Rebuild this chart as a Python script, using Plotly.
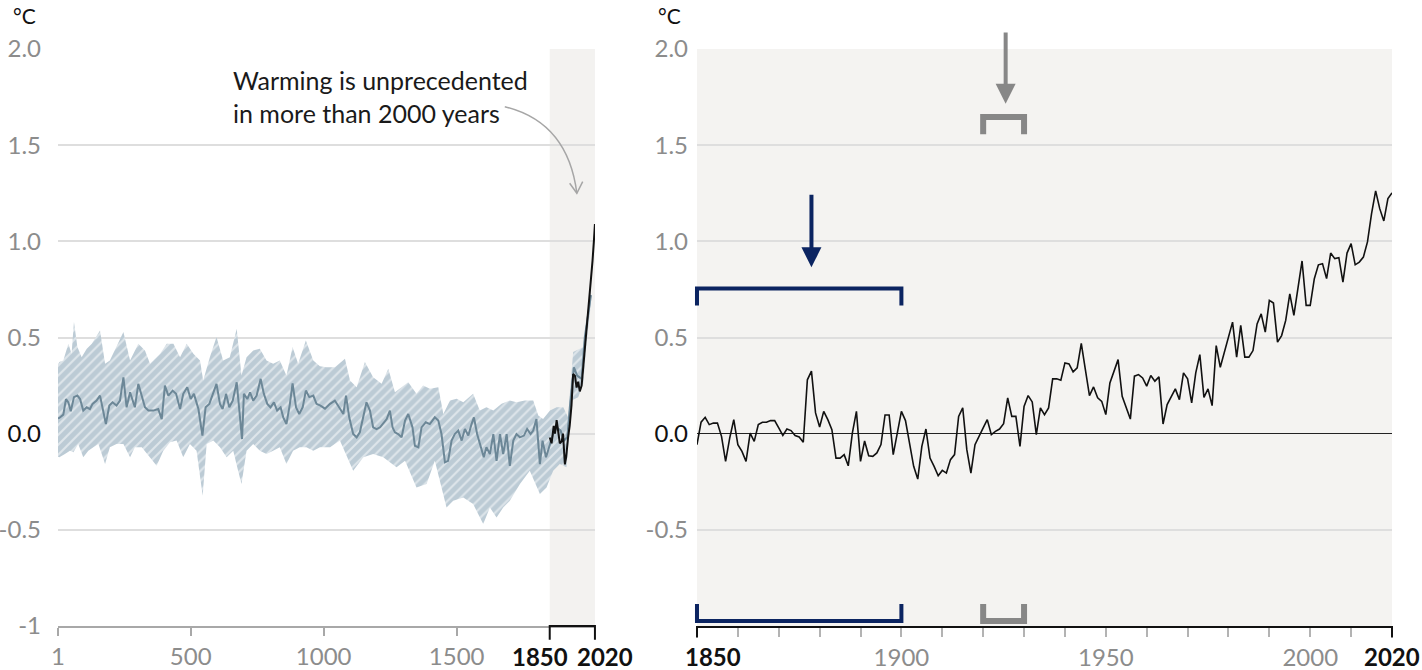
import plotly.graph_objects as go

# ---------------- data ----------------
# Left panel: reconstruction (median) 1-2005
recon_years = [1,6,21,31,40,49,61,74,84,96,109,121,131,146,159,171,181,194,206,221,234,247,259,272,290,303,316,328,341,359,378,391,403,416,432,445,460,472,487,500,512,529,544,556,570,585,597,610,620,633,645,658,673,683,693,700,713,723,735,748,763,775,788,800,813,825,838,848,860,873,883,896,908,921,933,946,961,973,988,1005,1024,1042,1061,1074,1084,1096,1111,1124,1136,1149,1161,1174,1186,1199,1212,1227,1237,1249,1259,1268,1280,1293,1306,1318,1334,1343,1356,1368,1384,1399,1418,1431,1443,1456,1468,1481,1493,1506,1519,1531,1544,1556,1565,1577,1590,1602,1612,1625,1638,1650,1663,1675,1688,1700,1713,1725,1738,1753,1765,1778,1788,1800,1813,1823,1836,1848,1861,1876,1891,1903,1916,1928,1941,1953,1970,1982,1995,2005]
recon_median = [0.08,0.082,0.099,0.18,0.163,0.116,0.19,0.198,0.18,0.12,0.137,0.128,0.155,0.172,0.198,0.111,0.05,0.146,0.163,0.146,0.172,0.293,0.137,0.215,0.137,0.259,0.19,0.137,0.12,0.12,0.128,0.076,0.25,0.198,0.224,0.207,0.128,0.207,0.241,0.18,0.207,0.128,-0.01,0.137,0.155,0.207,0.259,0.155,0.128,0.207,0.137,0.172,0.267,0.12,-0.028,0.207,0.18,0.215,0.172,0.198,0.285,0.207,0.155,0.137,0.163,0.12,0.137,0.085,0.05,0.155,0.262,0.137,0.102,0.137,0.224,0.19,0.198,0.155,0.146,0.13,0.155,0.172,0.128,0.102,0.198,0.085,-0.002,-0.019,0.007,0.085,0.163,0.12,0.033,0.024,0.033,0.059,0.076,0.12,0.033,0.007,-0.002,-0.019,0.068,0.102,0.033,-0.063,-0.071,0.033,0.059,0.05,0.085,0.068,-0.002,-0.149,-0.141,-0.036,-0.002,0.016,-0.036,0.024,-0.01,0.05,0.085,-0.002,-0.063,-0.123,-0.071,-0.106,-0.002,-0.141,-0.002,-0.106,-0.002,-0.167,-0.036,-0.002,-0.019,-0.01,0.024,-0.002,0.016,0.076,-0.158,-0.036,-0.123,-0.071,-0.01,0.033,0.016,-0.036,-0.019,0.172,0.345,0.302,0.285,0.502,0.62,0.72]

# Left panel: upper bound of the reconstruction range
upper_years = [1,6,21,40,52,61,74,90,109,128,159,178,196,221,247,272,303,328,347,385,410,435,460,485,510,535,547,572,597,622,647,673,691,710,735,760,785,810,835,860,883,904,933,961,986,1011,1042,1080,1099,1124,1155,1186,1218,1243,1268,1293,1318,1349,1374,1399,1431,1450,1475,1500,1525,1562,1587,1612,1638,1669,1700,1725,1757,1788,1807,1825,1851,1876,1901,1919,1938,1963,1976,1988,2005]
upper_vals = [0.36,0.372,0.38,0.467,0.415,0.58,0.45,0.397,0.441,0.467,0.536,0.363,0.38,0.45,0.528,0.38,0.467,0.432,0.363,0.415,0.467,0.467,0.397,0.467,0.415,0.38,0.276,0.397,0.502,0.38,0.397,0.545,0.302,0.397,0.432,0.441,0.38,0.363,0.38,0.302,0.45,0.363,0.484,0.38,0.35,0.345,0.345,0.389,0.276,0.241,0.372,0.293,0.259,0.337,0.215,0.241,0.267,0.207,0.25,0.233,0.241,0.102,0.172,0.181,0.163,0.207,0.12,0.137,0.12,0.155,0.172,0.163,0.172,0.172,0.094,0.076,0.12,0.137,0.137,0.085,0.424,0.441,0.45,0.589,0.75]

# Left panel: lower bound of the reconstruction range
lower_years = [1,6,27,46,59,77,96,115,134,153,178,196,221,247,272,290,316,347,372,397,422,447,472,497,522,545,560,585,610,635,660,675,691,710,735,760,785,810,835,860,885,910,935,961,986,1024,1061,1111,1149,1186,1224,1274,1306,1349,1387,1418,1462,1487,1525,1562,1600,1625,1650,1675,1700,1738,1775,1813,1838,1863,1888,1913,1932,1957,1976,1988,2005]
lower_vals = [-0.12,-0.123,-0.106,-0.089,-0.097,-0.054,-0.123,-0.089,-0.071,-0.054,-0.158,-0.071,-0.054,-0.054,-0.123,-0.071,-0.071,-0.123,-0.167,-0.089,-0.045,-0.036,-0.123,-0.054,-0.089,-0.323,-0.054,-0.036,-0.071,-0.123,-0.089,-0.175,-0.262,-0.089,-0.054,-0.089,-0.106,-0.089,-0.071,-0.158,-0.089,-0.071,-0.071,-0.089,-0.07,-0.071,-0.036,-0.193,-0.123,-0.106,-0.123,-0.175,-0.141,-0.28,-0.262,-0.141,-0.384,-0.349,-0.332,-0.366,-0.47,-0.384,-0.436,-0.384,-0.349,-0.262,-0.193,-0.314,-0.28,-0.193,-0.158,-0.175,0.172,0.189,0.259,0.467,0.68]

# Left panel: observed (smoothed) 1850-2020
obs_left_years = [1850,1857,1865,1870,1876,1880,1888,1895,1900,1907,1912,1919,1925,1932,1938,1945,1951,1957,1963,1970,1976,1982,1988,1995,2001,2006,2011,2016,2020]
obs_left_vals = [-0.02,-0.05,0.04,0.0,0.07,0.03,-0.05,-0.04,0.0,-0.16,-0.12,-0.02,0.04,0.15,0.31,0.3,0.24,0.27,0.22,0.25,0.34,0.45,0.52,0.62,0.72,0.82,0.9,1.0,1.09]

# Right panel: annual observed 1850-2020
obs_years = list(range(1850, 2021))
obs_vals = [
    -0.057,0.06,0.085,0.047,0.055,0.055,-0.014,-0.144,-0.023,0.073,
    -0.057,-0.092,-0.144,0.003,-0.04,0.047,0.059,0.059,0.068,0.068,
    0.03,-0.009,0.024,0.016,-0.01,-0.017,-0.045,0.28,0.325,0.108,
    0.035,0.116,0.073,0.021,-0.127,-0.127,-0.109,-0.167,0.003,0.116,
    -0.144,-0.038,-0.115,-0.118,-0.1,-0.057,0.097,0.097,-0.109,0.012,
    0.116,0.068,-0.057,-0.17,-0.236,-0.066,0.024,-0.127,-0.17,-0.219,
    -0.191,-0.205,-0.135,-0.109,0.09,0.134,-0.083,-0.205,-0.057,-0.017,
    0.03,0.073,-0.005,0.012,0.024,0.052,0.186,0.09,0.09,-0.066,
    0.142,0.198,0.165,-0.005,0.134,0.099,0.134,0.285,0.285,0.278,
    0.368,0.363,0.321,0.342,0.469,0.333,0.198,0.243,0.186,0.168,
    0.099,0.264,0.325,0.385,0.194,0.134,0.076,0.299,0.307,0.29,
    0.247,0.302,0.273,0.295,0.05,0.151,0.194,0.233,0.177,0.316,
    0.285,0.16,0.316,0.411,0.189,0.233,0.146,0.458,0.345,0.424,
    0.51,0.58,0.398,0.563,0.398,0.398,0.432,0.571,0.623,0.528,
    0.693,0.679,0.476,0.51,0.589,0.727,0.615,0.753,0.898,0.667,
    0.667,0.806,0.878,0.884,0.806,0.939,0.91,0.915,0.788,0.939,
    0.988,0.878,0.892,0.918,0.997,1.144,1.262,1.17,1.106,1.222,
    1.252]

# Tick labels
y_ticks_left = [-1, -0.5, 0, 0.5, 1, 1.5, 2]
y_text_left = ["-1", "-0.5", "<span style='color:#111111'>0.0</span>", "0.5", "1.0", "1.5", "2.0"]
y_ticks_right = [-0.5, 0, 0.5, 1, 1.5, 2]
y_text_right = ["-0.5", "<span style='color:#111111'>0.0</span>", "0.5", "1.0", "1.5", "2.0"]
x_ticks_left = [1, 500, 1000, 1500]
x_text_left = ["1", "500", "1000", "1500"]
x_ticks_right = list(range(1850, 2021, 10))
x_text_right = [str(v) if v in (1900, 1950, 2000) else "" for v in x_ticks_right]

NAVY = "#0b2461"
GREY_MARK = "#878787"
TICK_GREY = "#8c8c8c"
FONT = "Lato"

fig = go.Figure()

# band (hatched)
fig.add_trace(go.Scatter(x=lower_years, y=lower_vals, mode="lines",
                         line=dict(width=0, color="rgba(0,0,0,0)"),
                         xaxis="x", yaxis="y", hoverinfo="skip"))
fig.add_trace(go.Scatter(x=upper_years, y=upper_vals, mode="lines",
                         line=dict(width=0, color="rgba(0,0,0,0)"),
                         fill="tonexty", fillcolor="#bccbd5",
                         fillpattern=dict(shape="/", bgcolor="#bccbd5", fgcolor="#ffffff",
                                          size=7, solidity=0.3),
                         xaxis="x", yaxis="y", hoverinfo="skip"))
fig.add_trace(go.Scatter(x=recon_years, y=recon_median, mode="lines",
                         line=dict(width=2, color="#6c8797"),
                         xaxis="x", yaxis="y"))
fig.add_trace(go.Scatter(x=obs_left_years, y=obs_left_vals, mode="lines",
                         line=dict(width=2, color="#111111"),
                         xaxis="x", yaxis="y"))
# right panel annual line
fig.add_trace(go.Scatter(x=obs_years, y=obs_vals, mode="lines",
                         line=dict(width=1.6, color="#111111"),
                         xaxis="x2", yaxis="y2"))

tickfont = dict(family=FONT, size=24, color=TICK_GREY)

fig.update_layout(
    width=1422, height=670,
    margin=dict(l=58, r=30, t=49, b=44),
    paper_bgcolor="white", plot_bgcolor="white",
    showlegend=False,
    font=dict(family=FONT),
    xaxis=dict(domain=[0, 0.4025], range=[1, 2020], anchor="y", automargin=False,
               tickvals=x_ticks_left, ticktext=x_text_left, tickfont=tickfont,
               ticks="outside", ticklen=8, tickwidth=1.5, tickcolor="#a8a8a8",
               showline=True, linecolor="#a8a8a8", linewidth=1.5,
               showgrid=False, zeroline=False),
    yaxis=dict(domain=[0, 1], range=[-1, 2], anchor="x", automargin=False,
               tickvals=y_ticks_left, ticktext=y_text_left, tickfont=tickfont,
               showgrid=True, gridcolor="#dedede", gridwidth=1.5,
               zeroline=False, showline=False, ticks="", ticklabelstandoff=16),
    xaxis2=dict(domain=[0.479, 1], range=[1850, 2020], anchor="y2", automargin=False,
                tickvals=x_ticks_right, ticktext=x_text_right, tickfont=tickfont,
                ticks="outside", ticklen=9, tickwidth=1.5, tickcolor="#b3b3b3",
                showline=True, linecolor="#111111", linewidth=1.5,
                showgrid=False, zeroline=False),
    yaxis2=dict(domain=[0, 1], range=[-1, 2], anchor="x2", automargin=False,
                tickvals=y_ticks_right, ticktext=y_text_right, tickfont=tickfont,
                showgrid=True, gridcolor="#dedede", gridwidth=1.5,
                zeroline=True, zerolinecolor="#222222", zerolinewidth=1.2,
                showline=False, ticks="", ticklabelstandoff=8),
)

def fx1(yr):
    return (yr - 1) / (2020 - 1)

def fx2(yr):
    return (yr - 1850) / (2020 - 1850)

shapes = []
# background shading
shapes.append(dict(type="rect", xref="x", yref="y domain", x0=1850, x1=2020, y0=0, y1=1,
                   fillcolor="#f3f2f0", line=dict(width=0), layer="below"))
shapes.append(dict(type="rect", xref="x2 domain", yref="y2 domain", x0=0, x1=1, y0=0, y1=1,
                   fillcolor="#f4f3f1", line=dict(width=0), layer="below"))
# left bracket on axis 1850-2020
shapes.append(dict(type="path", xref="x domain", yref="paper",
                   path=f"M {fx1(1850)},-0.024 L {fx1(1850)},0 L {fx1(2020)},0 L {fx1(2020)},-0.024",
                   line=dict(color="#111111", width=2)))
# right: black end ticks
for f in (0, 1):
    shapes.append(dict(type="line", xref="x2 domain", yref="paper", x0=f, x1=f, y0=0, y1=-0.02,
                       line=dict(color="#111111", width=2)))
# brackets in right panel
def bracket(x0, x1, ybar, yleg, color, width):
    return dict(type="path", xref="x2 domain", yref="y2",
                path=f"M {fx2(x0)},{yleg} L {fx2(x0)},{ybar} L {fx2(x1)},{ybar} L {fx2(x1)},{yleg}",
                line=dict(color=color, width=width))
shapes.append(bracket(1850, 1900, 0.755, 0.667, NAVY, 4))
shapes.append(bracket(1850, 1900, -0.974, -0.885, NAVY, 4))
shapes.append(bracket(1920, 1930, 1.646, 1.557, GREY_MARK, 6))
shapes.append(bracket(1920, 1930, -0.974, -0.885, GREY_MARK, 6))
# curved arrow (left panel)
shapes.append(dict(type="path", xref="x", yref="y",
                   path="M 1681,1.70 Q 1918,1.62 1952,1.25",
                   line=dict(color="#a6a6a6", width=1.5)))
shapes.append(dict(type="path", xref="x", yref="y",
                   path="M 1925,1.302 L 1952,1.25 L 1974,1.31",
                   line=dict(color="#a6a6a6", width=1.5)))
fig.update_layout(shapes=shapes)

ann = []
ann.append(dict(text="Warming is unprecedented<br>in more than 2000 years", xref="paper", yref="paper",
                x=(231 - 58) / 1334, y=(626 - 97) / 577, xanchor="left", yanchor="middle",
                align="left", showarrow=False, font=dict(family=FONT, size=25, color="#1a1a1a")))
ann.append(dict(text="°C", xref="paper", yref="paper", x=(11 - 58) / 1334, y=(626 - 15) / 577,
                xanchor="left", yanchor="middle", showarrow=False,
                font=dict(family=FONT, size=21, color="#111111")))
ann.append(dict(text="°C", xref="paper", yref="paper", x=(656 - 58) / 1334, y=(626 - 15) / 577,
                xanchor="left", yanchor="middle", showarrow=False,
                font=dict(family=FONT, size=21, color="#111111")))
boldfont = dict(family=FONT, size=24, color="#111111")
ann.append(dict(text="<b>1850</b>", xref="x", yref="paper", x=1850, y=(626 - 656) / 577,
                xanchor="right", yanchor="middle", xshift=20, showarrow=False, font=boldfont))
ann.append(dict(text="<b>2020</b>", xref="x", yref="paper", x=2020, y=(626 - 656) / 577,
                xanchor="left", yanchor="middle", xshift=-20, showarrow=False, font=boldfont))
ann.append(dict(text="<b>1850</b>", xref="x2", yref="paper", x=1850, y=(626 - 656) / 577,
                xanchor="left", yanchor="middle", xshift=-14, showarrow=False, font=boldfont))
ann.append(dict(text="<b>2020</b>", xref="x2", yref="paper", x=2020, y=(626 - 656) / 577,
                xanchor="center", yanchor="middle", showarrow=False, font=boldfont))
# arrows in right panel
ann.append(dict(text="", xref="x2", yref="y2", x=1878, y=0.865, axref="x2", ayref="y2",
                ax=1878, ay=1.25, showarrow=True, arrowhead=2, arrowsize=1, arrowwidth=4,
                arrowcolor=NAVY))
ann.append(dict(text="", xref="x2", yref="y2", x=1925.5, y=1.715, axref="x2", ayref="y2",
                ax=1925.5, ay=2.094, showarrow=True, arrowhead=2, arrowsize=1, arrowwidth=4,
                arrowcolor=GREY_MARK))
fig.update_layout(annotations=ann)

# remove the browser's default 8px body margin so the figure sits at the window's top-left corner
fig.write_html("out.html", config={"displayModeBar": False},
               post_script="document.body.style.margin='0px';")
